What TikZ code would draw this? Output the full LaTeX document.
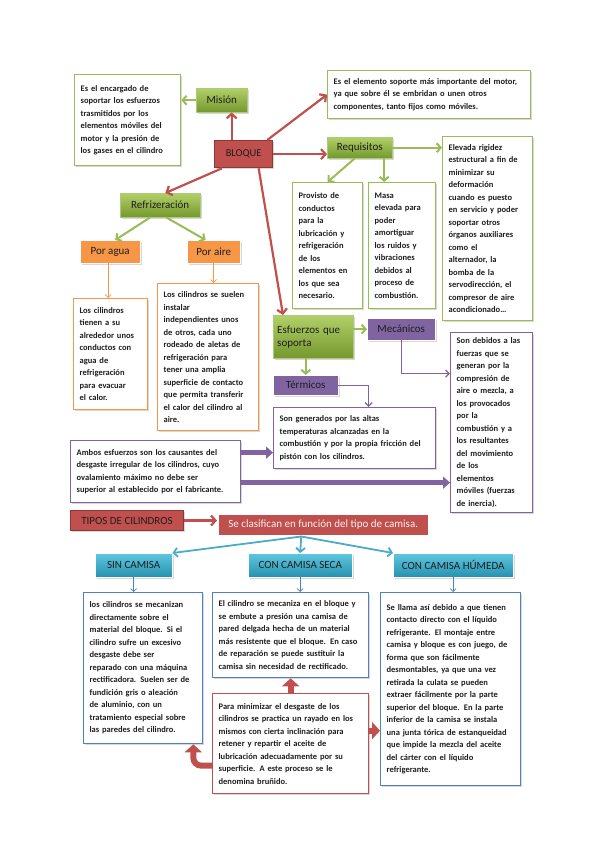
\documentclass[tikz,border=0pt]{standalone}
\usepackage{fontspec}
\setmainfont{Carlito}
\usetikzlibrary{arrows.meta,positioning,shadows,calc}
\definecolor{olive}{RGB}{155,187,89}
\definecolor{olivetop}{RGB}{178,208,104}
\definecolor{olivebot}{RGB}{116,152,46}
\definecolor{brick}{RGB}{192,80,77}
\definecolor{brickdark}{RGB}{140,56,54}
\definecolor{tang}{RGB}{247,150,70}
\definecolor{violet}{RGB}{128,100,162}
\definecolor{skytop}{RGB}{96,198,224}
\definecolor{skybot}{RGB}{38,146,176}
\definecolor{sky}{RGB}{75,172,198}
\definecolor{steel}{RGB}{79,129,189}
\definecolor{ink}{RGB}{30,30,30}

\begin{document}
\begin{tikzpicture}[x=1pt,y=-1pt,
    shade/.style={drop shadow={shadow xshift=1.5pt,shadow yshift=-1.5pt,opacity=0.3}},
    txt/.style={shade,fill=white,align=left,anchor=north west,text=ink,
      font=\fontsize{8.5}{12.5}\selectfont\bfseries,inner xsep=6pt,inner ysep=4pt},
    greentxt/.style={txt,draw=olive,line width=1.3pt},
    orangetxt/.style={txt,draw=tang,line width=1.3pt},
    violettxt/.style={txt,draw=violet,line width=1.3pt},
    bluetxt/.style={txt,draw=steel,line width=1.3pt},
    redtxt/.style={txt,draw=brick,line width=1.3pt},
    label/.style={shade,anchor=north west,text=ink,font=\fontsize{11}{13}\selectfont,
      align=center,inner sep=2pt},
    greenlab/.style={label,top color=olivetop,bottom color=olivebot,draw=olive!80!white,thin},
    orangelab/.style={label,fill=tang,draw=white,thin},
    violetlab/.style={label,fill=violet,draw=white,thin},
    bluelab/.style={label,top color=skytop,bottom color=skybot,draw=white,thin},
    redlab/.style={label,fill=brick,draw=brickdark,line width=1.3pt},
    gline/.style={olive,line width=2pt,-{Straight Barb[length=4pt,width=9pt]}},
    rline/.style={brick,line width=2.2pt,-{Straight Barb[length=4.5pt,width=10pt]}},
    oline/.style={tang,line width=0.7pt,-{Straight Barb[length=3pt,width=6pt]}},
    vline/.style={violet,line width=1.3pt,-{Straight Barb[length=3.5pt,width=7pt]}},
    vblock/.style={violet,line width=4.5pt,-{Triangle[length=7pt,width=12pt]}},
    sline/.style={sky,line width=1.8pt,-{Straight Barb[length=4pt,width=9pt]}},
    bline/.style={steel,line width=0.7pt,-{Straight Barb[length=3pt,width=6pt]}},
    rblock/.style={brick,line width=6pt,-{Triangle[length=8pt,width=17pt]}}]
  \useasboundingbox (0,0) rectangle (599,848);
  \fill[white] (0,0) rectangle (599,848);

  % bloque
  \node[redlab,minimum width=58pt,minimum height=27pt,font=\fontsize{10.5}{12}\selectfont] (bloque) at (214,140) {BLOQUE};
  \node[greenlab,minimum width=51pt,minimum height=24pt] (mision) at (196,88) {Misión};
  \node[greentxt,text width=94pt,minimum height=91pt] (misiontxt) at (74,74)
    {Es el encargado de\\soportar los esfuerzos\\trasmitidos por los\\elementos móviles del\\motor y la presión de\\los gases en el cilindro};
  \node[greentxt,text width=191pt,minimum height=48pt] (bloquetxt) at (327,70)
    {Es el elemento soporte más importante del motor,\\ya que sobre él se embridan o unen otros\\componentes, tanto fijos como móviles.};

  % requisitos
  \node[greenlab,minimum width=65pt,minimum height=21pt] (requisitos) at (327,137) {Requisitos};
  \node[greentxt,text width=78pt,minimum height=184pt] (rigidez) at (442,136)
    {Elevada rigidez\\estructural a fin de\\minimizar su\\deformación\\cuando es puesto\\en servicio y poder\\soportar otros\\órganos auxiliares\\como el\\alternador, la\\bomba de la\\servodirección, el\\compresor de aire\\acondicionado…};
  \node[greentxt,text width=58pt,minimum height=126pt] (conductos) at (292,182)
    {Provisto de\\conductos\\para la\\lubricación y\\refrigeración\\de los\\elementos en\\los que sea\\necesario.};
  \node[greentxt,text width=55pt,minimum height=126pt] (masa) at (368,182)
    {Masa\\elevada para\\poder\\amortiguar\\los ruidos y\\vibraciones\\debidos al\\proceso de\\combustión.};

  % refrigeracion
  \node[greenlab,minimum width=80pt,minimum height=24pt] (refrig) at (120,193) {Refrizeración};
  \node[orangelab,minimum width=60pt,minimum height=23pt] (agua) at (80,240) {Por agua};
  \node[orangelab,minimum width=53pt,minimum height=23pt] (aire) at (187,240) {Por aire};
  \node[orangetxt,text width=62pt,minimum height=111pt] (aguatxt) at (73,298)
    {Los cilindros\\tienen a su\\alrededor unos\\conductos con\\agua de\\refrigeración\\para evacuar\\el calor.};
  \node[orangetxt,text width=89pt,minimum height=147pt] (airetxt) at (157,283)
    {Los cilindros se suelen\\instalar\\independientes unos\\de otros, cada uno\\rodeado de aletas de\\refrigeración para\\tener una amplia\\superficie de contacto\\que permita transferir\\el calor del cilindro al\\aire.};

  % esfuerzos
  \node[greenlab,minimum width=80pt,minimum height=43pt,align=left,text width=72pt] (esfuerzos) at (273,315) {Esfuerzos que\\soporta};
  \node[violetlab,minimum width=68pt,minimum height=22pt] (mecanicos) at (367,318) {Mecánicos};
  \node[violetlab,minimum width=65pt,minimum height=20pt] (termicos) at (273,375) {Térmicos};
  \node[violettxt,text width=150pt,minimum height=61pt] (termtxt) at (273,407)
    {Son generados por las altas\\temperaturas alcanzadas en la\\combustión y por la propia fricción del\\pistón con los cilindros.};
  \node[violettxt,text width=70pt,minimum height=180pt] (mectxt) at (450,332)
    {Son debidos a las\\fuerzas que se\\generan por la\\compresión de\\aire o mezcla, a\\los provocados\\por la\\combustión y a\\los resultantes\\del movimiento\\de los\\elementos\\móviles (fuerzas\\de inercia).};
  \node[violettxt,text width=158pt,minimum height=62pt] (ambos) at (70,440)
    {Ambos esfuerzos son los causantes del\\desgaste irregular de los cilindros, cuyo\\ovalamiento máximo no debe ser\\superior al establecido por el fabricante.};

  % tipos de cilindros
  \node[redlab,minimum width=113pt,minimum height=20pt,line width=1pt] (tipos) at (70,510) {TIPOS DE CILINDROS};
  \node[label,fill=brick,draw=white,line width=1.5pt,minimum width=211pt,minimum height=22pt,text=white!92!brick] (clasif) at (217,513)
    {Se clasifican en función del tipo de camisa.};
  \node[bluelab,minimum width=77pt,minimum height=24pt] (sin) at (95,553) {SIN CAMISA};
  \node[bluelab,minimum width=104pt,minimum height=24pt] (seca) at (248,553) {CON CAMISA SECA};
  \node[bluelab,minimum width=120pt,minimum height=24pt] (humeda) at (393,553) {CON CAMISA HÚMEDA};
  \node[bluetxt,text width=107pt,minimum height=151pt] (sintxt) at (83,592)
    {los cilindros se mecanizan\\directamente sobre el\\material del bloque. Si el\\cilindro sufre un excesivo\\desgaste debe ser\\reparado con una máquina\\rectificadora. Suelen ser de\\fundición gris o aleación\\de aluminio, con un\\tratamiento especial sobre\\las paredes del cilindro.};
  \node[bluetxt,text width=144pt,minimum height=85pt] (secatxt) at (212,592)
    {El cilindro se mecaniza en el bloque y\\se embute a presión una camisa de\\pared delgada hecha de un material\\más resistente que el bloque. En caso\\de reparación se puede sustituir la\\camisa sin necesidad de rectificado.};
  \node[bluetxt,text width=128pt,minimum height=193pt] (humtxt) at (380,592)
    {Se llama así debido a que tienen\\contacto directo con el líquido\\refrigerante. El montaje entre\\camisa y bloque es con juego, de\\forma que son fácilmente\\desmontables, ya que una vez\\retirada la culata se pueden\\extraer fácilmente por la parte\\superior del bloque. En la parte\\inferior de la camisa se instala\\una junta tórica de estanqueidad\\que impide la mezcla del aceite\\del cárter con el líquido\\refrigerante.};
  \node[redtxt,text width=144pt,minimum height=100pt] (brunido) at (212,693)
    {Para minimizar el desgaste de los\\cilindros se practica un rayado en los\\mismos con cierta inclinación para\\retener y repartir el aceite de\\lubricación adecuadamente por su\\superficie. A este proceso se le\\denomina bruñido.};

  % conectores
  \draw[gline] (mision.west) -- (mision.west -| misiontxt.east);
  \draw[rline] ([xshift=-12pt]bloque.north) -- ([xshift=-12pt]bloque.north |- mision.south);
  \draw[rline] ([xshift=-6pt]bloque.north east) -- (bloquetxt.west);
  \draw[rline] (bloque.east) -- (bloque.east -| requisitos.west);
  \draw[gline] (requisitos.east) -- (requisitos.east -| rigidez.west);
  \draw[gline] ([xshift=-5pt]requisitos.south) -- (conductos.north);
  \draw[gline] ([xshift=-18pt]masa.north |- requisitos.south) -- ([xshift=-18pt]masa.north);
  \draw[rline] ([xshift=8pt]bloque.south west) -- ([xshift=-35pt]refrig.north east);
  \draw[gline] ([xshift=-10pt]refrig.south) -- ([xshift=5pt]agua.north);
  \draw[gline] ([xshift=6pt]refrig.south) -- ([xshift=-8pt]aire.north);
  \draw[oline] ([xshift=-2pt]agua.south) -- ([xshift=-2pt]agua.south |- aguatxt.north);
  \draw[oline] (aire.south) -- (aire.south |- airetxt.north);
  \draw[rline] ([xshift=15pt]bloque.south) -- ([xshift=10pt]esfuerzos.north west);
  \draw[gline] (esfuerzos.east |- mecanicos.west) -- (mecanicos.west);
  \draw[gline] (termicos.north |- esfuerzos.south) -- (termicos.north);
  \draw[vline] (termicos.east) -| ([xshift=14pt]termtxt.north);
  \draw[vline] (mecanicos.south) |- ([yshift=49pt]mectxt.west);
  \draw[vblock] ([yshift=19pt]ambos.east) -- ([yshift=19pt]ambos.east -| termtxt.west);
  \draw[vblock] ([yshift=-11pt]ambos.east) -- ([yshift=-11pt]ambos.east -| mectxt.west);
  \draw[rline] (tipos.east) -- (tipos.east -| clasif.west);
  \coordinate (hub) at ([xshift=-22pt]clasif.south);
  \draw[sline] (hub) -- (sin.north east);
  \draw[sline] (hub) -- (seca.north);
  \draw[sline] (hub) -- (humeda.north west);
  \draw[bline] (sin.south) -- (sin.south |- sintxt.north);
  \draw[bline] (seca.south) -- (seca.south |- secatxt.north);
  \draw[bline] (humeda.south) -- (humeda.south |- humtxt.north);
  \draw[rblock] (brunido.north) -- (secatxt.south);
  \draw[rblock] ([yshift=13pt]brunido.east) -- ([yshift=13pt]brunido.east -| humtxt.west);
  \draw[rblock,rounded corners=8pt] ([yshift=-22pt]brunido.west) -| ([xshift=-10pt]sintxt.south east);
\end{tikzpicture}
\end{document}
